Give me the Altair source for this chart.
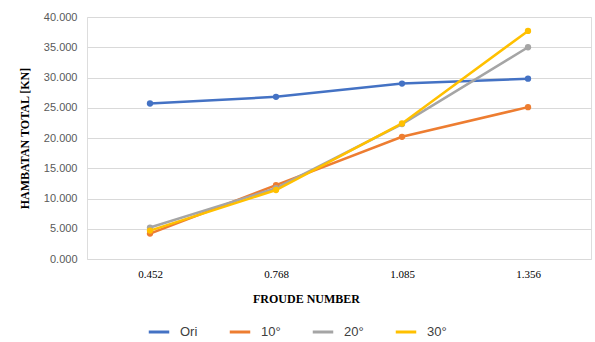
import altair as alt
import pandas as pd

# Froude numbers (categorical axis) and total resistance per trim angle
froude = ["0.452", "0.768", "1.085", "1.356"]
series_names = ["Ori", "10°", "20°", "30°"]
ori = [25.7, 26.8, 29.0, 29.8]
deg10 = [4.2, 12.2, 20.2, 25.1]
deg20 = [5.2, 11.7, 22.3, 35.0]
deg30 = [4.7, 11.4, 22.4, 37.7]
colors = ["#4472C4", "#ED7D31", "#A5A5A5", "#FFC000"]

rows = []
for name, vals in zip(series_names, [ori, deg10, deg20, deg30]):
    for f, v in zip(froude, vals):
        rows.append({"froude": f, "series": name, "value": v})
df = pd.DataFrame(rows)

x_enc = alt.X(
    "froude:N",
    sort=froude,
    scale=alt.Scale(type="point", padding=0.5),
    axis=alt.Axis(
        title="FROUDE NUMBER",
        titleFont="Liberation Serif",
        titleFontSize=12,
        titleFontWeight="bold",
        titleColor="#000000",
        titlePadding=14,
        titleX=219,
        labelAngle=0,
        labelFont="Liberation Serif",
        labelFontSize=11,
        labelColor="#000000",
        labelPadding=9,
        domain=False,
        ticks=False,
        grid=False,
    ),
)
y_enc = alt.Y(
    "value:Q",
    scale=alt.Scale(domain=[0, 40], nice=False),
    axis=alt.Axis(
        title="HAMBATAN TOTAL [KN]",
        titleFont="Liberation Serif",
        titleFontSize=12,
        titleFontWeight="bold",
        titleColor="#000000",
        titlePadding=12,
        values=[0, 5, 10, 15, 20, 25, 30, 35, 40],
        format=".3f",
        labelFont="Liberation Sans",
        labelFontSize=11,
        labelColor="#595959",
        labelPadding=10,
        domain=False,
        ticks=False,
        gridColor="#D9D9D9",
        gridWidth=1,
    ),
)
color_enc = alt.Color(
    "series:N",
    sort=series_names,
    scale=alt.Scale(domain=series_names, range=colors),
    legend=alt.Legend(
        title=None,
        orient="none",
        legendX=60,
        legendY=303,
        direction="horizontal",
        columns=4,
        symbolType="stroke",
        symbolStrokeWidth=3,
        symbolSize=420,
        labelFont="Liberation Sans",
        labelFontSize=13,
        labelColor="#404040",
        columnPadding=25,
        labelOffset=9,
    ),
)

base = alt.Chart(df).encode(x=x_enc, y=y_enc, color=color_enc,
                            order=alt.Order("series:N"))

lines = base.mark_line(strokeWidth=2.5)
points = base.mark_point(filled=True, size=40, opacity=1)

chart = (
    alt.layer(lines, points)
    .properties(
        width=504,
        height=242,
        autosize=alt.AutoSizeParams(type="none"),
        padding={"left": 87, "top": 17, "right": 4, "bottom": 83},
    )
    .configure_view(stroke=None)
    .configure(background="#FFFFFF")
)

chart.save("out.html", embed_options={"renderer": "svg", "actions": False})
